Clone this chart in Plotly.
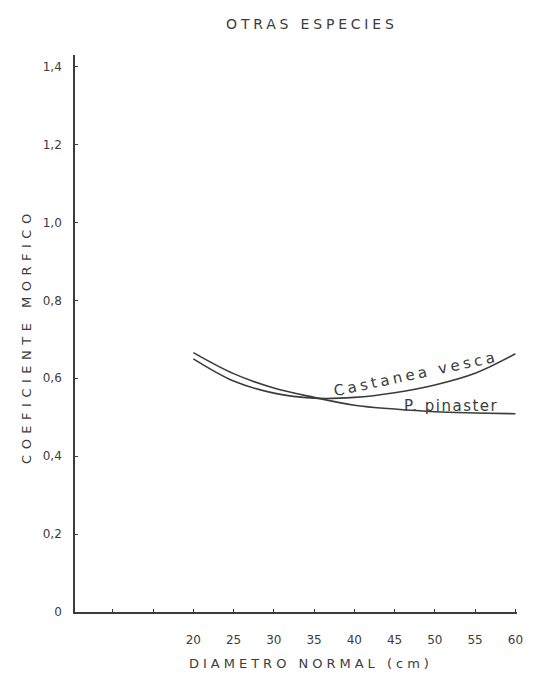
import plotly.graph_objects as go

# Diametro normal (cm)
diametro = [20, 25, 30, 35, 40, 45, 50, 55, 60]
# Coeficiente morfico
castanea_vesca = [0.650, 0.593, 0.562, 0.549, 0.551, 0.563, 0.583, 0.613, 0.663]
p_pinaster = [0.666, 0.612, 0.575, 0.551, 0.531, 0.521, 0.514, 0.511, 0.509]

x_tickvals = [10, 15, 20, 25, 30, 35, 40, 45, 50, 55, 60]
x_ticktext = ["", "", "20", "25", "30", "35", "40", "45", "50", "55", "60"]
y_tickvals = [0, 0.2, 0.4, 0.6, 0.8, 1.0, 1.2, 1.4]
y_ticktext = ["0", "0,2", "0,4", "0,6", "0,8", "1,0", "1,2", "1,4"]

title_text = "OTRAS ESPECIES"
x_title = "DIAMETRO NORMAL (cm)"
y_title = "COEFICIENTE MORFICO"

INK = "#3c3c3c"
FONT = "DejaVu Sans"


def spaced(txt, px):
    return '<span style="letter-spacing:%spx">%s</span>' % (px, txt)


fig = go.Figure()
fig.add_trace(go.Scatter(x=diametro, y=castanea_vesca, mode="lines",
                         line=dict(color=INK, width=1.6, shape="spline"),
                         name="Castanea vesca", showlegend=False))
fig.add_trace(go.Scatter(x=diametro, y=p_pinaster, mode="lines",
                         line=dict(color=INK, width=1.6, shape="spline"),
                         name="P. pinaster", showlegend=False))

# curve labels
fig.add_annotation(x=47.6, y=0.612, xref="x", yref="y", showarrow=False,
                   text=spaced("Castanea vesca", 3.5),
                   textangle=-12, font=dict(family=FONT, size=15, color=INK))
fig.add_annotation(x=52.0, y=0.530, xref="x", yref="y", showarrow=False,
                   text=spaced("P. pinaster", 1.5),
                   font=dict(family=FONT, size=15, color=INK))

# axis titles as annotations (positioned freely)
fig.add_annotation(x=0.534, y=-0.0916, xref="paper", yref="paper",
                   xanchor="center", yanchor="middle", showarrow=False,
                   text=spaced(x_title, 4),
                   font=dict(family=FONT, size=13, color=INK))
fig.add_annotation(x=-0.111, y=0.4955, xref="paper", yref="paper",
                   xanchor="center", yanchor="middle", showarrow=False,
                   textangle=-90, text=spaced(y_title, 5.5),
                   font=dict(family=FONT, size=13, color=INK))

fig.update_layout(
    width=535, height=680,
    margin=dict(l=67, r=26, t=47, b=76, autoexpand=False),
    paper_bgcolor="white", plot_bgcolor="white",
    font=dict(family=FONT, color=INK, size=12),
    title=dict(text=spaced(title_text, 3.8),
               x=0.568, xanchor="center", y=0.976, yanchor="middle",
               font=dict(family=FONT, size=14, color=INK)),
    xaxis=dict(range=[5.3, 60.2], tickvals=x_tickvals, ticktext=x_ticktext,
               showline=True, linecolor=INK, linewidth=1.6, mirror=False,
               showgrid=False, zeroline=False, ticks="inside", ticklen=3,
               tickcolor=INK, ticklabelstandoff=16, automargin=False,
               tickfont=dict(family=FONT, size=12, color=INK)),
    yaxis=dict(range=[0, 1.43], tickvals=y_tickvals, ticktext=y_ticktext,
               showline=True, linecolor=INK, linewidth=1.6, mirror=False,
               showgrid=False, zeroline=False, ticks="inside", ticklen=3,
               tickcolor=INK, ticklabelstandoff=9, automargin=False,
               tickfont=dict(family=FONT, size=12, color=INK)),
)

fig.write_html("out.html")
